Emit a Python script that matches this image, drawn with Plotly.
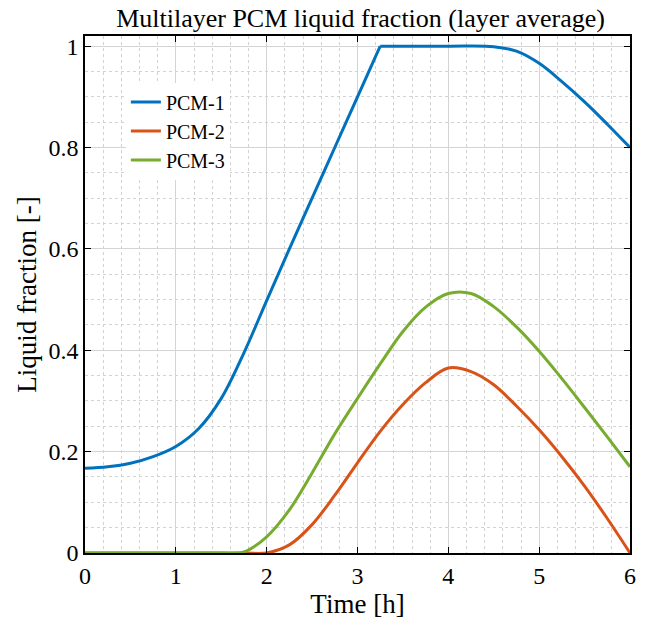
import plotly.graph_objects as go

# ---- data ----
# PCM-1: rising part and plateau/decline part (corner at t = 3.25 h)
t_pcm1_rise = [0, 0.25, 0.5, 0.75, 1.0, 1.25, 1.5, 1.75, 2.0, 2.25, 2.5, 2.75, 3.0, 3.25]
v_pcm1_rise = [0.167, 0.170, 0.177, 0.19, 0.21, 0.245, 0.305, 0.395, 0.498, 0.60, 0.70, 0.80, 0.90, 1.0]
t_pcm1_fall = [3.25, 4.0, 4.5, 4.75, 5.0, 5.25, 5.5, 5.75, 6.0]
v_pcm1_fall = [1.0, 1.0, 0.999, 0.99, 0.966, 0.93, 0.89, 0.846, 0.80]

t_pcm2 = [0, 1.0, 1.75, 2.0, 2.25, 2.5, 2.75, 3.0, 3.25, 3.5, 3.75, 4.0, 4.25, 4.5,
          4.75, 5.0, 5.25, 5.5, 5.75, 6.0]
v_pcm2 = [0, 0, 0, 0, 0.016, 0.056, 0.114, 0.178, 0.24, 0.293, 0.336, 0.365, 0.358, 0.332,
          0.29, 0.243, 0.19, 0.132, 0.068, 0.0]

t_pcm3 = [0, 1.0, 1.5, 1.75, 2.0, 2.25, 2.5, 2.75, 3.0, 3.25, 3.5, 3.75, 4.0, 4.25,
          4.5, 4.75, 5.0, 5.25, 5.5, 5.75, 6.0]
v_pcm3 = [0, 0, 0, 0.002, 0.032, 0.085, 0.158, 0.235, 0.305, 0.373, 0.437, 0.485, 0.512, 0.512,
          0.486, 0.446, 0.398, 0.344, 0.287, 0.229, 0.17]

names = ["PCM-1", "PCM-2", "PCM-3"]
colors = ["#0072BD", "#D95319", "#77AC30"]
x_ticks = [0, 1, 2, 3, 4, 5, 6]
y_ticks = [0, 0.2, 0.4, 0.6, 0.8, 1]

FONT = "Liberation Serif, Times New Roman, serif"

fig = go.Figure()


def add_line(t, v, name, color, show):
    fig.add_trace(go.Scatter(
        x=t, y=v, mode="lines", name=name, legendgroup=name, showlegend=show,
        line=dict(color=color, width=3, shape="spline", smoothing=1.0),
    ))


add_line(t_pcm1_rise, v_pcm1_rise, names[0], colors[0], True)
add_line(t_pcm1_fall, v_pcm1_fall, names[0], colors[0], False)
add_line(t_pcm2, v_pcm2, names[1], colors[1], True)
add_line(t_pcm3, v_pcm3, names[2], colors[2], True)

axis_common = dict(
    showline=True, linecolor="black", linewidth=1.5, mirror="ticks",
    ticks="inside", ticklen=6, tickwidth=1.2, tickcolor="black",
    showgrid=True, gridcolor="#d4d4d4", gridwidth=1,
    zeroline=False,
    tickfont=dict(family=FONT, size=24, color="black"),
)

fig.update_xaxes(
    range=[0, 6], tickvals=x_ticks,
    title=dict(text="Time [h]", font=dict(family=FONT, size=27, color="black"), standoff=6),
    minor=dict(dtick=0.2, showgrid=True, gridcolor="#d2d2d2", griddash="dot", gridwidth=1, ticks=""),
    **axis_common,
)
fig.update_yaxes(
    range=[0, 1.02], tickvals=y_ticks,
    title=dict(text="Liquid fraction [-]", font=dict(family=FONT, size=27, color="black"), standoff=4),
    minor=dict(dtick=0.05, showgrid=True, gridcolor="#d2d2d2", griddash="dot", gridwidth=1, ticks=""),
    **axis_common,
)

fig.update_layout(
    width=645, height=627,
    margin=dict(l=85, r=9, t=36, b=74),
    paper_bgcolor="white", plot_bgcolor="white",
    title=dict(text="Multilayer PCM liquid fraction (layer average)",
               font=dict(family=FONT, size=26, color="black"),
               x=0.559, xanchor="center", y=0.972, yanchor="middle"),
    legend=dict(x=0.075, y=0.91, xanchor="left", yanchor="top",
                bgcolor="white", borderwidth=0,
                font=dict(family=FONT, size=20, color="black"),
                itemwidth=30, tracegroupgap=0),
    showlegend=True,
)

fig.write_html("out.html")
